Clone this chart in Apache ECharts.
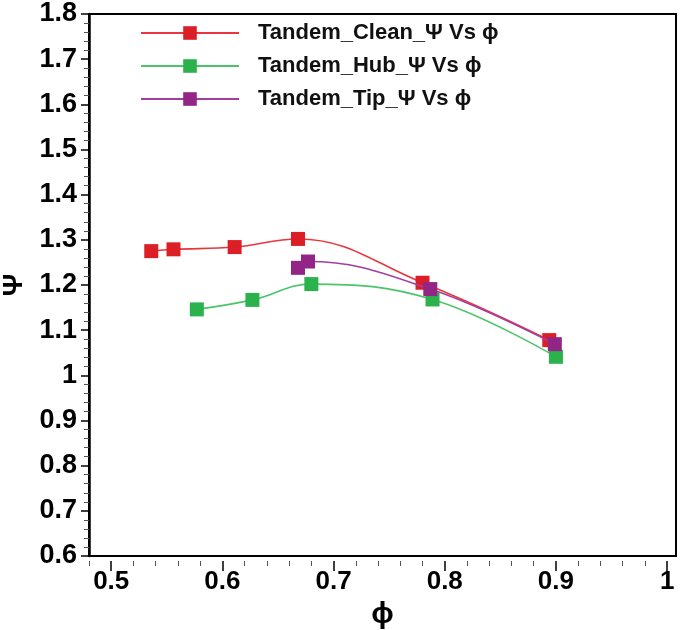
<!DOCTYPE html>
<html>
<head>
<meta charset="utf-8">
<script src="https://cdn.jsdelivr.net/npm/echarts@6/dist/echarts.min.js"></script>
<style>html,body{margin:0;padding:0;background:#fff}#c{width:685px;height:630px}</style>
</head>
<body>
<div id="c"></div>
<script>
const seriesNames = ['Tandem_Clean_\u03A8 Vs \u03D5', 'Tandem_Hub_\u03A8 Vs \u03D5', 'Tandem_Tip_\u03A8 Vs \u03D5'];
const cleanPhi = [0.536, 0.556, 0.611, 0.668, 0.780, 0.894];
const cleanPsi = [1.275, 1.279, 1.284, 1.302, 1.205, 1.078];
const hubPhi = [0.577, 0.627, 0.680, 0.789, 0.900];
const hubPsi = [1.146, 1.167, 1.202, 1.168, 1.041];
const tipPhi = [0.668, 0.677, 0.787, 0.899];
const tipPsi = [1.238, 1.252, 1.191, 1.069];
const xMajorTicks = [0.5, 0.6, 0.7, 0.8, 0.9, 1.0];
const xMinorTicks = [0.48, 0.52, 0.54, 0.56, 0.58, 0.62, 0.64, 0.66, 0.68, 0.72, 0.74, 0.76, 0.78, 0.82, 0.84, 0.86, 0.88, 0.92, 0.94, 0.96, 0.98];
const lineColors = ['#e8363c', '#4cc46a', '#a23ea0'];
const markColors = ['#dc1f26', '#2bb24c', '#922585'];

const FONT = '"Liberation Sans", Arial, sans-serif';
function pairs(xs, ys) { return xs.map((x, i) => [x, ys[i]]); }
function mkSeries(i, xs, ys) {
  return {
    name: seriesNames[i], type: 'line', smooth: 0.4,
    data: pairs(xs, ys), symbol: 'rect', symbolSize: 14,
    lineStyle: { color: lineColors[i], width: 1.6 },
    itemStyle: { color: markColors[i] },
    z: 3 + i
  };
}
const chart = echarts.init(document.getElementById('c'));
chart.setOption({
  animation: false,
  backgroundColor: '#fff',
  grid: { left: 89, top: 14, right: 9, bottom: 74, show: true, borderColor: '#000', borderWidth: 2, backgroundColor: 'transparent',
    containLabel: false, outerBoundsMode: 'none' },
  legend: {
    left: 140, top: 22, orient: 'vertical', padding: 0,
    itemWidth: 98, itemHeight: 17, itemGap: 11,
    textStyle: { fontFamily: FONT, fontWeight: 'bold', fontSize: 22, color: '#111', padding: [0, 0, 0, 14] },
    data: seriesNames
  },
  xAxis: [{
    type: 'value', min: 0.48, max: 1.008, offset: 5,
    name: '\u03D5', nameLocation: 'middle', nameGap: 32,
    nameTextStyle: { fontFamily: FONT, fontWeight: 'bold', fontSize: 30, color: '#000' },
    axisLine: { show: false },
    axisTick: { show: true, inside: false, length: 10, customValues: xMajorTicks, lineStyle: { color: '#000', width: 1.5 } },
    axisLabel: { customValues: xMajorTicks, margin: 8, fontFamily: FONT, fontWeight: 'bold', fontSize: 26, color: '#000',
      formatter: v => String(Math.round(v * 10) / 10) },
    splitLine: { show: false }
  }, {
    type: 'value', min: 0.48, max: 1.008, offset: 5, position: 'bottom',
    axisLine: { show: false },
    axisTick: { show: true, length: 5, customValues: xMinorTicks, lineStyle: { color: '#555', width: 1 } },
    axisLabel: { show: false },
    splitLine: { show: false }
  }],
  yAxis: {
    type: 'value', min: 0.6, max: 1.8, interval: 0.1,
    name: '\u03A8', nameLocation: 'middle', nameGap: 60, nameRotate: 90,
    nameTextStyle: { fontFamily: FONT, fontWeight: 'bold', fontSize: 28, color: '#000' },
    axisLine: { show: true, lineStyle: { color: '#000', width: 2.5 } },
    axisTick: { show: true, length: 8, lineStyle: { color: '#000', width: 1.5 } },
    minorTick: { show: true, splitNumber: 5, length: 5, lineStyle: { color: '#555', width: 1 } },
    axisLabel: { margin: 12, fontFamily: FONT, fontWeight: 'bold', fontSize: 27, color: '#000',
      formatter: v => String(Math.round(v * 10) / 10) },
    splitLine: { show: false }
  },
  series: [
    mkSeries(0, cleanPhi, cleanPsi),
    mkSeries(1, hubPhi, hubPsi),
    mkSeries(2, tipPhi, tipPsi)
  ]
});
</script>
</body>
</html>
